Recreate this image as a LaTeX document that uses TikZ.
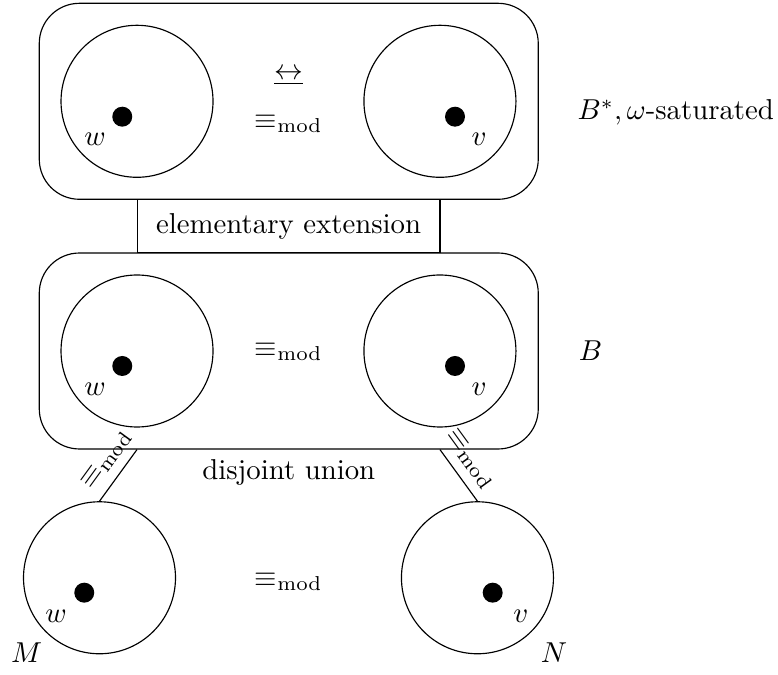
\documentclass[tikz,border=0pt]{standalone}
\usepackage{amsmath}
\begin{document}
\begin{tikzpicture}[
    world/.style={draw, circle, minimum size=1.856cm, inner sep=0pt},
    elem/.style={circle, fill, minimum size=0.244cm, inner sep=0pt},
    model/.style={draw, rounded corners=0.49cm, minimum width=6.093cm,
                  minimum height=2.393cm}]
  \useasboundingbox (0,0) rectangle (9.5,8.242);

  % B^*, omega-saturated
  \node[model] (Bs) at (3.526, 7.005) {};
  \node[world] (Bsw) at (1.673, 7.005) {};
  \node[world] (Bsv) at (5.372, 7.005) {};
  \node[elem] (Bswx) at (1.493, 6.817) {};
  \node[elem] (Bsvx) at (5.556, 6.817) {};
  \node (Bswl) at (1.160, 6.545) {$w$};
  \node (Bsvl) at (5.849, 6.545) {$v$};
  \node (Bsbis) at (3.526, 7.302) {$\underline{\leftrightarrow}$};
  \node (Bsmod) at (3.526, 6.728) {$\equiv_{\mathrm{mod}}$};
  \node[anchor=base west, inner sep=0pt] (Bsname) at (7.045, 6.777)
    {$B^*, \omega$-saturated};

  % elementary extension
  \node[draw, minimum width=3.696cm, minimum height=0.652cm] (ext)
    at (3.524, 5.482) {elementary extension};

  % B
  \node[model] (B) at (3.526, 3.956) {};
  \node[world] (Bw) at (1.673, 3.956) {};
  \node[world] (Bv) at (5.372, 3.956) {};
  \node[elem] (Bwx) at (1.493, 3.773) {};
  \node[elem] (Bvx) at (5.556, 3.773) {};
  \node (Bwl) at (1.160, 3.492) {$w$};
  \node (Bvl) at (5.849, 3.492) {$v$};
  \node (Bmod) at (3.526, 3.947) {$\equiv_{\mathrm{mod}}$};
  \node[anchor=base west, inner sep=0pt] (Bname) at (7.061, 3.838) {$B$};

  % disjoint union of M and N
  \node[anchor=north] (union) at (B.south) {disjoint union};
  \node[world] (M) at (1.215, 1.187) {};
  \node[world] (N) at (5.830, 1.187) {};
  \node[elem] (Mx) at (1.029, 1.005) {};
  \node[elem] (Nx) at (6.016, 1.005) {};
  \node (Mwl) at (0.684, 0.72) {$w$};
  \node (Nvl) at (6.361, 0.72) {$v$};
  \node (MNmod) at (3.526, 1.139) {$\equiv_{\mathrm{mod}}$};
  \node (Mname) at (0.326, 0.269) {$M$};
  \node (Nname) at (6.764, 0.269) {$N$};

  \draw (B.south -| Bw.center) -- node[sloped, above, pos=0.4]
    {$\equiv_{\mathrm{mod}}$} (M.north);
  \draw (B.south -| Bv.center) -- node[sloped, above, pos=0.4]
    {$\equiv_{\mathrm{mod}}$} (N.north);
\end{tikzpicture}
\end{document}
